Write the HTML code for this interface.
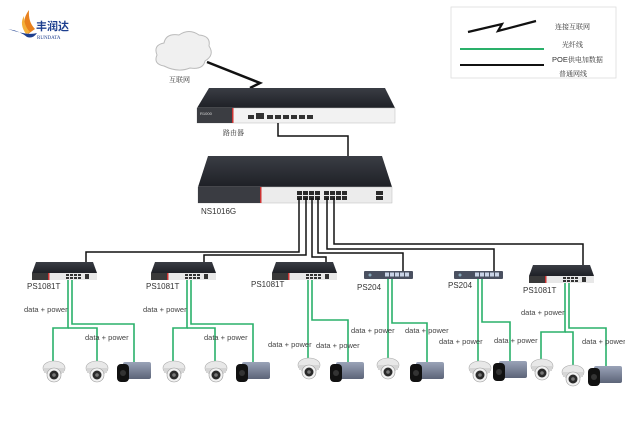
<!DOCTYPE html>
<html><head><meta charset="utf-8"><style>
html,body{margin:0;padding:0;background:#fff;}
svg{display:block;}
text{font-family:"Liberation Sans","Noto Sans CJK SC",sans-serif;}
.lb{font-size:8px;fill:#333;}
.dp{font-size:7.5px;fill:#444;}
.cn{font-family:"Noto Serif CJK SC","Liberation Serif",serif;font-size:7px;fill:#333;}
</style></head><body>
<svg width="625" height="441" viewBox="0 0 625 441" xmlns="http://www.w3.org/2000/svg">
<defs>
<linearGradient id="top" x1="0" y1="0" x2="0" y2="1"><stop offset="0" stop-color="#3a3d44"/><stop offset="1" stop-color="#1e2026"/></linearGradient>
<linearGradient id="box" x1="0" y1="0" x2="0" y2="1"><stop offset="0" stop-color="#9aa3b8"/><stop offset="1" stop-color="#5c6478"/></linearGradient>
<g id="dome">
<ellipse cx="12" cy="8" rx="11" ry="7" fill="#e8e8e8" stroke="#aaa" stroke-width="0.6"/>
<rect x="2" y="8" width="20" height="5" fill="#d5d5d5"/>
<circle cx="12" cy="15" r="7" fill="#f2f2f2" stroke="#999" stroke-width="0.6"/>
<circle cx="12" cy="15" r="4.5" fill="#2a2a2a"/>
<circle cx="12" cy="15" r="1.8" fill="#777"/>
</g>
<g id="boxcam">
<rect x="6" y="1" width="28" height="17" rx="2" fill="url(#box)"/>
<rect x="0" y="3" width="12" height="18" rx="4" fill="#111"/>
<circle cx="6" cy="12" r="3" fill="#333"/>
</g>
<g id="sw">
<polygon points="4,0 61,0 65,11 0,11" fill="url(#top)"/>
<rect x="0" y="11" width="65" height="7" fill="#e8e8e8"/>
<rect x="0" y="11" width="16" height="7" fill="#3a3a3a"/>
<rect x="16" y="11" width="1.5" height="7" fill="#c33"/>
<g fill="#333"><rect x="34" y="12" width="3" height="2"/><rect x="38" y="12" width="3" height="2"/><rect x="42" y="12" width="3" height="2"/><rect x="46" y="12" width="3" height="2"/><rect x="34" y="15" width="3" height="2"/><rect x="38" y="15" width="3" height="2"/><rect x="42" y="15" width="3" height="2"/><rect x="46" y="15" width="3" height="2"/><rect x="53" y="12" width="4" height="5"/></g>
</g>
<g id="ps204">
<rect x="0" y="0" width="49" height="8" rx="1" fill="#4a5060"/>
<g fill="#c9d3e6"><rect x="21" y="1.5" width="4" height="4"/><rect x="26" y="1.5" width="4" height="4"/><rect x="31" y="1.5" width="4" height="4"/><rect x="36" y="1.5" width="4" height="4"/><rect x="41" y="1.5" width="4" height="4"/></g>
<circle cx="6" cy="4" r="1.5" fill="#8ab"/>
</g>
</defs>

<!-- logo -->
<path d="M28 34 Q20 22 29 10 Q28 22 35 29 Z" fill="#e8811d"/>
<path d="M26 34 Q19 24 24 16 Q24 26 30 32 Z" fill="#f4b03a"/>
<path d="M8 29 Q20 31 27 37 Q33 39 37 33 Q28 36 8 29 Z" fill="#1d3f8f"/>
<text x="36" y="30" font-size="11" font-weight="bold" fill="#1d3f8f" style="font-family:'Noto Sans CJK SC',sans-serif">丰润达</text>
<text x="37" y="39" font-size="5" fill="#1d3f8f" style="font-family:'Liberation Serif',serif">RUNDATA</text>

<!-- legend -->
<rect x="451" y="7" width="165" height="71" fill="#fff" stroke="#ddd" stroke-width="0.8"/>
<polyline points="468,32 502,24 498,31 536,21" fill="none" stroke="#111" stroke-width="2.2"/>
<text x="555" y="29" class="cn">连接互联网</text>
<line x1="460" y1="49" x2="544" y2="49" stroke="#2ab06a" stroke-width="2"/>
<text x="562" y="47" class="cn">光纤线</text>
<line x1="460" y1="65" x2="544" y2="65" stroke="#111" stroke-width="2"/>
<text x="552" y="62" class="cn"><tspan font-family="Liberation Sans" font-size="7.5">POE</tspan>供电加数据</text>
<text x="559" y="76" class="cn">普通网线</text>

<!-- cloud -->
<path d="M164 66 Q153 64 157 55 Q153 45 164 43 Q166 33 179 35 Q189 28 199 35 Q211 36 209 46 Q215 55 205 61 Q203 70 190 68 Q178 73 164 66 Z" fill="#f0f0f0" stroke="#bbb" stroke-width="1"/>
<text x="169" y="82" class="cn">互联网</text>
<polyline points="207,62 260,83 250,88" fill="none" stroke="#111" stroke-width="2.5"/>

<!-- router -->
<polygon points="209,88 385,88 395,108 197,108" fill="url(#top)"/>
<rect x="197" y="108" width="198" height="15" fill="#f2f2f2" stroke="#bbb" stroke-width="0.5"/>
<rect x="197" y="108" width="35" height="15" fill="#3b3d42"/>
<rect x="232" y="108" width="1.5" height="15" fill="#c33"/>
<text x="200" y="115" font-size="4" fill="#ddd">R1000</text>
<g fill="#333"><rect x="248" y="115" width="6" height="4"/><rect x="256" y="113" width="8" height="6"/><rect x="267" y="115" width="6" height="4"/><rect x="275" y="115" width="6" height="4"/><rect x="283" y="115" width="6" height="4"/><rect x="291" y="115" width="6" height="4"/><rect x="299" y="115" width="6" height="4"/><rect x="307" y="115" width="6" height="4"/></g>
<text x="223" y="135" class="cn">路由器</text>
<polyline points="278,123 278,136 348,136 348,195" fill="none" stroke="#111" stroke-width="1.5"/>

<!-- main switch -->
<polygon points="208,156 382,156 392,187 198,187" fill="url(#top)"/>
<rect x="198" y="187" width="194" height="16" fill="#ececec" stroke="#bbb" stroke-width="0.5"/>
<rect x="198" y="187" width="62" height="16" fill="#3a3c42"/>
<rect x="260" y="187" width="1.5" height="16" fill="#c33"/>
<g fill="#2a2a2a">
<rect x="297" y="191" width="5" height="4"/><rect x="303" y="191" width="5" height="4"/><rect x="309" y="191" width="5" height="4"/><rect x="315" y="191" width="5" height="4"/><rect x="324" y="191" width="5" height="4"/><rect x="330" y="191" width="5" height="4"/><rect x="336" y="191" width="5" height="4"/><rect x="342" y="191" width="5" height="4"/>
<rect x="297" y="196" width="5" height="4"/><rect x="303" y="196" width="5" height="4"/><rect x="309" y="196" width="5" height="4"/><rect x="315" y="196" width="5" height="4"/><rect x="324" y="196" width="5" height="4"/><rect x="330" y="196" width="5" height="4"/><rect x="336" y="196" width="5" height="4"/><rect x="342" y="196" width="5" height="4"/>
<rect x="376" y="191" width="7" height="4"/><rect x="376" y="196" width="7" height="4"/></g>
<text x="201" y="214" class="lb">NS1016G</text>

<!-- trunk lines -->
<g fill="none" stroke="#111" stroke-width="1.5">
<polyline points="299,198 299,252 86,252 86,275"/>
<polyline points="306,198 306,255 204,255 204,275"/>
<polyline points="312,198 312,257 326,257 326,275"/>
<polyline points="318,198 318,253 403,253 403,275"/>
<polyline points="327,198 327,249 494,249 494,275"/>
<polyline points="334,198 334,244 583,244 583,278"/>
</g>

<!-- sub switches -->
<use href="#sw" x="32" y="262"/>
<use href="#sw" x="151" y="262"/>
<use href="#sw" x="272" y="262"/>
<use href="#ps204" x="364" y="271"/>
<use href="#ps204" x="454" y="271"/>
<use href="#sw" x="529" y="265"/>
<text x="27" y="289" class="lb">PS1081T</text>
<text x="146" y="289" class="lb">PS1081T</text>
<text x="251" y="287" class="lb">PS1081T</text>
<text x="357" y="290" class="lb">PS204</text>
<text x="448" y="288" class="lb">PS204</text>
<text x="523" y="293" class="lb">PS1081T</text>

<!-- green lines -->
<g fill="none" stroke="#2ab06a" stroke-width="1.6">
<polyline points="68,280 68,328 53,328 53,362"/><polyline points="68,328 97,328 97,362"/>
<polyline points="72,280 72,324 134,324 134,363"/>
<polyline points="187,280 187,328 173,328 173,362"/><polyline points="187,328 215,328 215,362"/>
<polyline points="191,280 191,324 253,324 253,363"/>
<polyline points="308,280 308,359"/>
<polyline points="312,280 312,320 348,320 348,363"/>
<polyline points="388,279 388,359"/>
<polyline points="392,279 392,323 427,323 427,363"/>
<polyline points="478,279 478,361"/>
<polyline points="482,279 482,322 510,322 510,363"/>
<polyline points="565,283 565,332 541,332 541,361"/><polyline points="565,332 573,332 573,365"/>
<polyline points="569,283 569,328 606,328 606,367"/>
</g>

<!-- labels -->
<text x="24" y="312" class="dp">data + power</text>
<text x="85" y="340" class="dp">data + power</text>
<text x="143" y="312" class="dp">data + power</text>
<text x="204" y="340" class="dp">data + power</text>
<text x="268" y="347" class="dp">data + power</text>
<text x="316" y="348" class="dp">data + power</text>
<text x="351" y="333" class="dp">data + power</text>
<text x="405" y="333" class="dp">data + power</text>
<text x="439" y="344" class="dp">data + power</text>
<text x="494" y="343" class="dp">data + power</text>
<text x="521" y="315" class="dp">data + power</text>
<text x="582" y="344" class="dp">data + power</text>

<!-- cameras -->
<use href="#dome" x="42" y="360"/>
<use href="#dome" x="85" y="360"/>
<use href="#boxcam" x="117" y="361"/>
<use href="#dome" x="162" y="360"/>
<use href="#dome" x="204" y="360"/>
<use href="#boxcam" x="236" y="361"/>
<use href="#dome" x="297" y="357"/>
<use href="#boxcam" x="330" y="361"/>
<use href="#dome" x="376" y="357"/>
<use href="#boxcam" x="410" y="361"/>
<use href="#dome" x="468" y="360"/>
<use href="#boxcam" x="493" y="360"/>
<use href="#dome" x="530" y="358"/>
<use href="#dome" x="561" y="364"/>
<use href="#boxcam" x="588" y="365"/>
</svg>
</body></html>
